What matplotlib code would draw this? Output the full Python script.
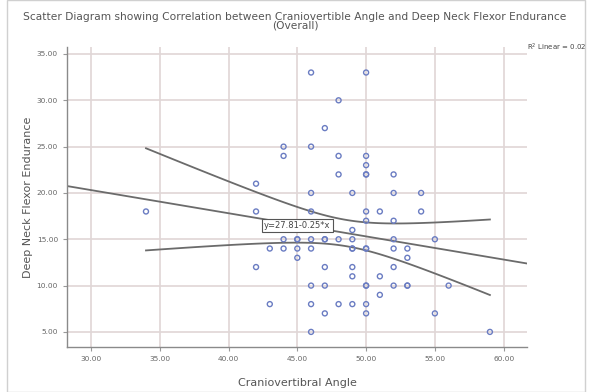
import numpy as np
import matplotlib
matplotlib.use("Agg")
import matplotlib.pyplot as plt
from matplotlib.patches import Rectangle

# angle (x) -> endurance values (y)
ANGLE = ([34] + [42] * 3 + [43] * 2 + [44] * 4 + [45] * 4 + [46] * 9 + [47] * 6
         + [48] * 5 + [49] * 8 + [50] * 13 + [51] * 3 + [52] * 7 + [53] * 4
         + [54] * 2 + [55] * 2 + [56] + [59])
ENDURANCE = ([18]
             + [21, 18, 12]
             + [14, 8]
             + [25, 24, 15, 14]
             + [15, 15, 14, 13]
             + [33, 25, 20, 18, 15, 14, 10, 8, 5]
             + [27, 15, 15, 12, 10, 7]
             + [30, 24, 22, 15, 8]
             + [20, 16, 15, 14, 14, 12, 11, 8]
             + [33, 24, 23, 22, 22, 18, 17, 14, 14, 10, 10, 8, 7]
             + [18, 11, 9]
             + [22, 20, 17, 15, 14, 12, 10]
             + [14, 13, 10, 10]
             + [20, 18]
             + [15, 7]
             + [10]
             + [5])

FIT_INTERCEPT = 27.81
FIT_SLOPE = -0.25
R2_TEXT = "R$^2$ Linear = 0.02"
T_CRIT = 1.993  # t(0.975, df=73)

XTICKS = [30, 35, 40, 45, 50, 55, 60]
YTICKS = [5, 10, 15, 20, 25, 30, 35]

TITLE = ("Scatter Diagram showing Correlation between Craniovertible Angle and "
         "Deep Neck Flexor Endurance\n(Overall)")

x = np.array(ANGLE, dtype=float)
y = np.array(ENDURANCE, dtype=float)

fig = plt.figure(figsize=(5.9, 3.92), dpi=100)
ax = fig.add_axes([0.1136, 0.115, 0.7797, 0.765])

grid_c = "#e0d6d6"
for t in XTICKS:
    ax.axvline(t, color=grid_c, lw=1.2, zorder=0)
for t in YTICKS:
    ax.axhline(t, color=grid_c, lw=1.2, zorder=0)

ax.scatter(x, y, s=13, facecolors="none", edgecolors="#6a7cc2", linewidths=1.0, zorder=3)

xlim = (28.26, 61.7)
xs = np.linspace(*xlim, 50)
ax.plot(xs, FIT_INTERCEPT + FIT_SLOPE * xs, color="#6b6b6b", lw=1.3, zorder=2)

# 95% CI of the mean around the fit line
n = len(x)
resid = y - (FIT_INTERCEPT + FIT_SLOPE * x)
s = np.sqrt(np.sum(resid ** 2) / (n - 2))
sxx = np.sum((x - x.mean()) ** 2)
xc = np.linspace(x.min(), x.max(), 100)
yc = FIT_INTERCEPT + FIT_SLOPE * xc
half = T_CRIT * s * np.sqrt(1 / n + (xc - x.mean()) ** 2 / sxx)
ax.plot(xc, yc + half, color="#6b6b6b", lw=1.3, zorder=2)
ax.plot(xc, yc - half, color="#6b6b6b", lw=1.3, zorder=2)

ax.text(45.0, 16.5, f"y={FIT_INTERCEPT:.2f}{FIT_SLOPE:.2f}*x", fontsize=6.0,
        color="#444444", ha="center", va="center", zorder=4,
        bbox=dict(boxstyle="square,pad=0.25", fc="white", ec="#555555", lw=0.8))

ax.set_xlim(*xlim)
ax.set_ylim(3.38, 35.75)
ax.set_xticks(XTICKS)
ax.set_yticks(YTICKS)
ax.set_xticklabels([f"{t:.2f}" for t in XTICKS])
ax.set_yticklabels([f"{t:.2f}" for t in YTICKS])
ax.tick_params(labelsize=5.3, colors="#999999", labelcolor="#666666", length=3, width=0.8)
for side in ("top", "right"):
    ax.spines[side].set_visible(False)
for side in ("left", "bottom"):
    ax.spines[side].set_color("#8a8a8a")
    ax.spines[side].set_linewidth(1.0)

ax.set_xlabel("Craniovertibral Angle", fontsize=8.0, color="#555555")
ax.set_ylabel("Deep Neck Flexor Endurance", fontsize=8.0, color="#555555")
ax.xaxis.set_label_coords(0.5, -0.103)
ax.yaxis.set_label_coords(-0.074, 0.5)

fig.text(0.5, 0.97, TITLE, ha="center", va="top", fontsize=7.7, color="#555555",
         linespacing=0.9)
fig.text(527 / 590, 1 - 47 / 392, R2_TEXT, ha="left", va="center", fontsize=5.0,
         color="#444444")

fig.patches.append(Rectangle((7 / 590, 0.0), 578 / 590, 1.0, transform=fig.transFigure,
                             fill=False, ec="#d0d0d0", lw=1.0))

fig.savefig("out.png", dpi=100)
